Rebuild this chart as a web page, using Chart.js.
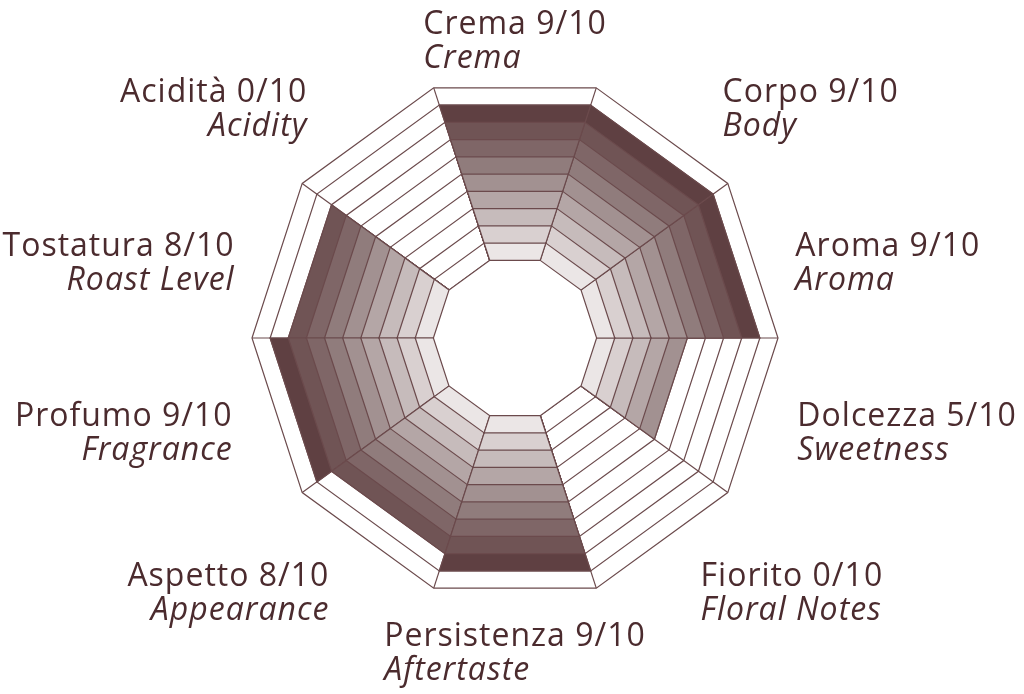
<!DOCTYPE html>
<html>
<head>
<meta charset="utf-8">
<script src="https://cdn.jsdelivr.net/npm/chart.js@4.4.0/dist/chart.umd.min.js"></script>
<style>
html, body { margin: 0; padding: 0; background: #fff; }
#wrap { width: 1024px; height: 694px; position: relative; }
</style>
</head>
<body>
<div id="wrap"><canvas id="myCanvas"></canvas></div>
<script>
// scores of the coffee, one wedge each, clockwise from the top
var categories = ['Crema', 'Corpo', 'Aroma', 'Dolcezza', 'Fiorito', 'Persistenza', 'Aspetto', 'Profumo', 'Tostatura', 'Acidità'];
var subtitles = ['Crema', 'Body', 'Aroma', 'Sweetness', 'Floral Notes', 'Aftertaste', 'Appearance', 'Fragrance', 'Roast Level', 'Acidity'];
var scores = [9, 9, 9, 5, 0, 9, 8, 9, 8, 0];
var maxScore = 10;

// band colours, inner (1) to outer (10)
var bandColors = ['#ebe6e6', '#d9d0d0', '#c6bbbb', '#b4a6a6', '#a29191', '#907c7c', '#7f6667', '#705455', '#5f4042', '#503133'];
var lineColor = '#6b4a4c';
var textColor = '#4b2b2e';
var holeSize = 4.5;   // empty centre, in score units

// small nudges for the labels, by angle from the top (0..180): [outward x, y]
var labelShift = [[0, -2], [30, 8], [-7, 11], [-5, -5], [8, 3], [0, 6]];

function wedgeData(k, level){
    var n = categories.length;
    var data = [];
    for (var i = 0; i < n; i++) data.push(-holeSize);
    data[k] = level;
    data[(k + n - 1) % n] = level;
    return data;
}

var datasets = [];
// white centre on top of everything
datasets.push({
    data: categories.map(function(){ return 0; }),
    fill: 'start',
    backgroundColor: '#ffffff',
    borderColor: lineColor,
    borderWidth: 1.2,
    pointRadius: 0
});
for (var level = 1; level <= maxScore; level++){
    for (var k = 0; k < categories.length; k++){
        if (scores[k] >= level){
            datasets.push({
                data: wedgeData(k, level),
                fill: 'start',
                backgroundColor: bandColors[level - 1],
                borderColor: lineColor,
                borderWidth: 1.2,
                pointRadius: 0
            });
        }
    }
}

var labelPlugin = {
    id: 'sideLabels',
    afterDatasetsDraw: function(chart){
        var scale = chart.scales.r;
        var ctx = chart.ctx;
        var n = categories.length;
        var dist = scale.drawingArea * Math.cos(Math.PI / n) + 52;
        ctx.save();
        ctx.fillStyle = textColor;
        ctx.textBaseline = 'middle';
        ctx.letterSpacing = '1px';
        for (var k = 0; k < n; k++){
            var a = k * 2 * Math.PI / n;
            var sin = Math.sin(a);
            var shift = labelShift[Math.min(k, n - k)];
            var x = scale.xCenter + dist * sin;
            var y = scale.yCenter - dist * Math.cos(a) + 8 + shift[1];
            var line1 = categories[k] + ' ' + scores[k] + '/' + maxScore;
            var line2 = subtitles[k];
            ctx.font = '400 32px "Open Sans"';
            var w1 = ctx.measureText(line1).width;
            ctx.font = 'italic 400 32px "Open Sans"';
            var w2 = ctx.measureText(line2).width;
            if (sin > 0.1){
                ctx.textAlign = 'left';
                x += shift[0];
            } else if (sin < -0.1){
                ctx.textAlign = 'right';
                x -= shift[0];
            } else {
                ctx.textAlign = 'left';
                x = x - Math.max(w1, w2) / 2;
            }
            ctx.font = '400 32px "Open Sans"';
            ctx.fillText(line1, x, y - 17);
            ctx.font = 'italic 400 32px "Open Sans"';
            ctx.fillText(line2, x, y + 17);
        }
        ctx.restore();
    }
};

var ctx = document.getElementById('myCanvas').getContext('2d');
var myChart = new Chart(ctx, {
    type: 'radar',
    data: {
        labels: categories,
        datasets: datasets
    },
    options: {
        responsive: true,
        maintainAspectRatio: false,
        animation: false,
        layout: { padding: { left: 252, right: 246, top: 75, bottom: 93 } },
        plugins: { legend: { display: false }, tooltip: { enabled: false } },
        elements: { line: { tension: 0 } },
        scales: {
            r: {
                min: -holeSize,
                max: maxScore,
                startAngle: 18,
                ticks: { display: false, stepSize: 1 },
                pointLabels: { display: false },
                grid: {
                    circular: false,
                    lineWidth: 1.2,
                    color: function(c){ return c.tick && c.tick.value >= 0 ? lineColor : 'rgba(0,0,0,0)'; }
                },
                angleLines: { color: lineColor, lineWidth: 1.2 }
            }
        }
    },
    plugins: [labelPlugin]
});
</script>
</body>
</html>
